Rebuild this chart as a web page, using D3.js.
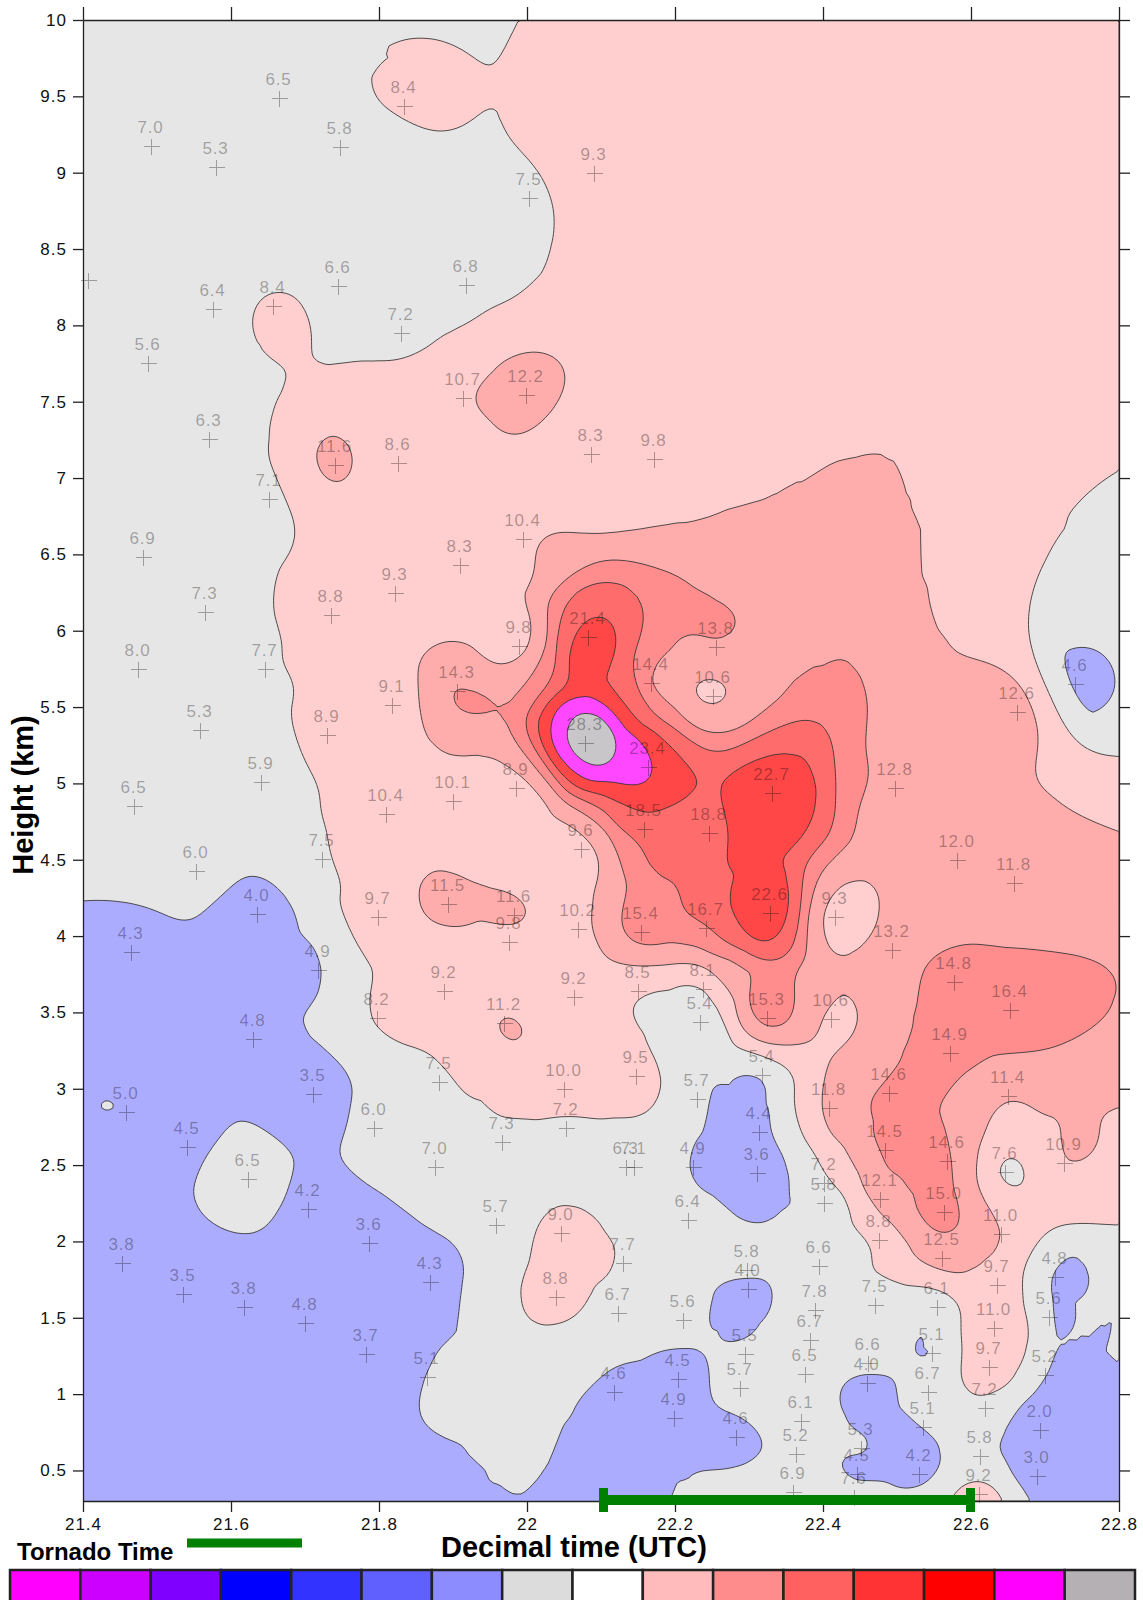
<!DOCTYPE html>
<html>
<head>
<meta charset="utf-8">
<script src="https://cdn.jsdelivr.net/npm/d3@7"></script>
<style>
  body { margin: 0; background: #fff; }
  text { font-family: "Liberation Sans", Arial, sans-serif; }
</style>
</head>
<body>
<svg id="chart" width="1143" height="1600"></svg>
<script>
// ── Observations (decimal time UTC, height km, value) ─────────────────────
const ptTime = [
  21.665, 21.492, 21.580, 21.747, 21.407, 21.576, 21.657, 21.745, 21.488, 21.834,
  22.091, 22.003, 21.918, 21.830, 21.914, 21.999, 21.570, 21.741, 21.651, 21.481,
  21.565, 21.735, 21.474, 21.646, 21.558, 21.730, 21.641, 21.469, 21.826, 22.086,
  22.172, 21.995, 21.909, 21.822, 21.989, 22.082, 22.255, 22.168, 21.905, 21.818,
  22.251, 22.078, 22.164, 21.900, 21.985, 21.809, 22.741, 22.662, 22.497, 22.331,
  21.553, 21.723, 21.635, 21.465, 21.718, 21.630, 21.711, 21.458, 21.541, 21.623,
  21.704, 21.799, 21.797, 21.793, 22.073, 22.158, 22.246, 21.893, 21.982, 21.976,
  22.069, 22.154, 22.242, 21.888, 22.064, 22.150, 22.238, 21.969, 22.234, 21.881,
  22.050, 22.147, 22.230, 22.053, 21.966, 21.876, 22.134, 22.145, 22.224, 22.314,
  22.311, 22.318, 22.324, 22.581, 22.658, 22.328, 22.416, 22.493, 22.577, 22.653,
  22.411, 22.572, 22.489, 22.650, 22.408, 22.484, 22.568, 22.646, 22.726, 22.401,
  22.401, 22.477, 22.564, 22.476, 22.561, 22.641, 22.635, 22.714, 22.705, 22.631,
  22.624, 22.700, 22.619, 22.693, 22.689, 22.612, 22.611, 22.395, 22.389, 22.382,
  22.376, 22.370, 22.364, 22.359, 22.470, 22.461, 22.459, 22.554, 22.547, 22.542,
  22.535, 22.451, 22.446, 22.442, 22.530, 21.453, 21.535, 21.618, 21.700, 21.782,
  21.786, 21.958, 22.046, 21.869, 22.039, 22.130, 22.123, 22.211, 22.297, 22.299,
  22.295, 22.288, 21.865, 22.118, 22.204, 22.199, 22.282, 22.218
];
const ptHeight = [
  9.489, 9.174, 9.037, 9.168, 8.297, 8.107, 8.126, 8.257, 7.753, 9.437,
  8.998, 8.834, 8.264, 7.949, 7.523, 7.543, 7.255, 7.084, 6.862, 6.482,
  6.121, 6.102, 5.748, 5.748, 5.348, 5.315, 5.008, 4.850, 7.098, 7.157,
  7.124, 6.600, 6.429, 6.246, 5.899, 5.958, 5.892, 5.656, 5.604, 5.512,
  5.571, 5.263, 5.106, 4.883, 4.968, 4.798, 5.650, 5.466, 4.968, 4.935,
  4.424, 4.503, 4.143, 3.894, 3.776, 3.324, 2.963, 2.845, 2.616, 2.406,
  2.210, 4.123, 3.461, 2.741, 4.569, 4.700, 4.673, 4.208, 4.136, 3.959,
  4.044, 4.025, 4.051, 3.638, 3.599, 3.638, 3.651, 3.429, 3.435, 3.042,
  2.996, 3.081, 2.931, 2.741, 2.649, 2.485, 2.485, 2.485, 2.485, 2.714,
  2.446, 3.088, 3.461, 4.497, 4.346, 4.149, 4.123, 3.907, 3.697, 3.514,
  3.455, 3.232, 2.970, 2.950, 2.872, 2.597, 2.524, 2.452, 2.511, 2.380,
  2.249, 2.275, 2.190, 2.007, 1.889, 2.046, 1.712, 1.764, 1.502, 1.430,
  1.175, 1.122, 0.906, 0.768, 0.467, 0.592, 0.349, 1.836, 1.548, 1.352,
  1.135, 0.827, 0.611, 0.356, 1.581, 1.201, 1.076, 1.568, 1.267, 1.011,
  0.782, 0.644, 0.474, 0.323, 0.474, 1.856, 1.653, 1.568, 1.463, 1.260,
  1.987, 2.105, 2.053, 1.732, 1.633, 1.856, 1.529, 1.483, 1.810, 1.686,
  1.260, 1.037, 1.109, 1.017, 1.096, 0.841, 0.716, 2.138
];
const ptValue = [
  6.5, 7.0, 5.3, 5.8, null, 6.4, 8.4, 6.6, 5.6, 8.4,
  9.3, 7.5, 6.8, 7.2, 10.7, 12.2, 6.3, 11.6, 7.1, 6.9,
  7.3, 8.8, 8.0, 7.7, 5.3, 8.9, 5.9, 6.5, 8.6, 8.3,
  9.8, 10.4, 8.3, 9.3, 9.8, 21.4, 13.8, 14.4, 14.3, 9.1,
  10.6, 28.3, 23.4, 10.1, 8.9, 10.4, 4.6, 12.6, 12.8, 22.7,
  6.0, 7.5, 4.0, 4.3, 4.9, 4.8, 3.5, 5.0, 4.5, 6.5,
  4.2, 9.7, 8.2, 6.0, 9.6, 18.5, 18.8, 11.5, 11.6, 9.8,
  10.2, 15.4, 16.7, 9.2, 9.2, 8.5, 8.1, 11.2, 5.4, 7.5,
  10.0, 9.5, 5.7, 7.2, 7.3, 7.0, 6.3, 7.1, 4.9, 4.4,
  3.6, 5.4, 15.3, 12.0, 11.8, 22.6, 9.3, 13.2, 14.8, 16.4,
  10.6, 14.9, 14.6, 11.4, 11.8, 14.5, 14.6, 7.6, 10.9, 7.2,
  5.8, 12.1, 15.0, 8.8, 12.5, 11.0, 9.7, 4.8, 5.6, 11.0,
  9.7, 5.2, 7.2, 2.0, 3.0, 5.8, 9.2, 6.6, 7.8, 6.7,
  6.5, 6.1, 5.2, 6.9, 7.5, 6.6, 4.0, 6.1, 5.1, 6.7,
  5.1, 5.3, 4.5, 7.6, 4.2, 3.8, 3.5, 3.8, 4.8, 3.7,
  3.6, 5.7, 9.0, 4.3, 8.8, 7.7, 6.7, 5.6, 5.8, 4.0,
  5.5, 5.7, 5.1, 4.6, 4.5, 4.9, 4.6, 6.4
];

// ── Axes, levels, palette ─────────────────────────────────────────────────
const xTicks = [21.4, 21.6, 21.8, 22.0, 22.2, 22.4, 22.6, 22.8];
const xTickLabels = ["21.4", "21.6", "21.8", "22", "22.2", "22.4", "22.6", "22.8"];
const yTicks = [0.5, 1, 1.5, 2, 2.5, 3, 3.5, 4, 4.5, 5, 5.5, 6, 6.5, 7, 7.5, 8, 8.5, 9, 9.5, 10];
const yTickLabels = ["0.5", "1", "1.5", "2", "2.5", "3", "3.5", "4", "4.5", "5",
                     "5.5", "6", "6.5", "7", "7.5", "8", "8.5", "9", "9.5", "10"];
const levels = [5.05, 8, 11.1, 14.2, 17, 20, 23, 26];
const barColors = ["#ff00ff", "#cc00ff", "#8000ff", "#0000ff", "#3333ff", "#6060ff", "#8c8cff", "#dcdcdc",
                   "#ffffff", "#ffbbbb", "#ff8c8c", "#ff6060", "#ff3333", "#ff0000", "#ff00ff", "#b4b0b4"];
const bandColorIdx = [6, 7, 9, 10, 11, 12, 13, 14, 15];   // colour box used by each band
const tornadoStart = 22.1, tornadoEnd = 22.6;

// ── Layout ────────────────────────────────────────────────────────────────
const L = 83, R = 1119, T = 20, B = 1501;
const x = d3.scaleLinear([21.4, 22.8], [L, R]);
const y = d3.scaleLinear([0.3, 10], [B, T]);
const svg = d3.select("#chart");
const fillOf = (c) => d3.interpolateRgb("#ffffff", c)(0.72);

// ── Gridding: thin-plate spline near the data, inverse distance in gaps ──
const pts = ptValue.map((v, i) => ({ x: x(ptTime[i]), y: y(ptHeight[i]), v }))
  .filter((p) => p.v != null);
const n = pts.length;
const S = 100;                                     // spline works in px / 100
const phi = (r2) => (r2 > 1e-12 ? 0.5 * r2 * Math.log(r2) : 0);
const LAMBDA = 0.005, K = 14, GAP = 48;

function solve(A, b) {
  const m = b.length;
  for (let c = 0; c < m; c++) {
    let piv = c;
    for (let r = c + 1; r < m; r++) if (Math.abs(A[r][c]) > Math.abs(A[piv][c])) piv = r;
    [A[c], A[piv]] = [A[piv], A[c]]; [b[c], b[piv]] = [b[piv], b[c]];
    for (let r = c + 1; r < m; r++) {
      const f = A[r][c] / A[c][c];
      if (!f) continue;
      for (let k = c; k < m; k++) A[r][k] -= f * A[c][k];
      b[r] -= f * b[c];
    }
  }
  const out = new Array(m).fill(0);
  for (let r = m - 1; r >= 0; r--) {
    let s = b[r];
    for (let k = r + 1; k < m; k++) s -= A[r][k] * out[k];
    out[r] = s / A[r][r];
  }
  return out;
}

const A = [], rhs = [];
for (let i = 0; i < n + 3; i++) A.push(new Array(n + 3).fill(0));
for (let i = 0; i < n; i++) {
  for (let j = 0; j < n; j++) {
    const dx = (pts[i].x - pts[j].x) / S, dy = (pts[i].y - pts[j].y) / S;
    A[i][j] = phi(dx * dx + dy * dy);
  }
  A[i][i] += LAMBDA;
  A[i][n] = A[n][i] = 1;
  A[i][n + 1] = A[n + 1][i] = pts[i].x / S;
  A[i][n + 2] = A[n + 2][i] = pts[i].y / S;
  rhs.push(pts[i].v);
}
rhs.push(0, 0, 0);
const coef = solve(A, rhs);

const nx = 259, ny = 371;
const cw = (R - L) / nx, ch = (B - T) / ny;
const grid = new Float64Array(nx * ny);
const bd = new Float64Array(K + 1), bv = new Float64Array(K + 1);
for (let j = 0; j < ny; j++) {
  const py = T + (j + 0.5) * ch;
  for (let i = 0; i < nx; i++) {
    const px = L + (i + 0.5) * cw;
    // spline value
    let tps = coef[n] + coef[n + 1] * px / S + coef[n + 2] * py / S;
    bd.fill(Infinity);
    for (let k = 0; k < n; k++) {
      const p = pts[k];
      const dx = p.x - px, dy = p.y - py, d2 = dx * dx + dy * dy;
      tps += coef[k] * phi(d2 / (S * S));
      if (d2 < bd[K]) {
        let q = K;
        while (q > 0 && bd[q - 1] > d2) { bd[q] = bd[q - 1]; bv[q] = bv[q - 1]; q--; }
        bd[q] = d2; bv[q] = p.v;
      }
    }
    // local Shepard value (Franke-Little weights)
    const rad = Math.sqrt(bd[K]);
    let sw = 0, sv = 0, lo = Infinity, hi = -Infinity;
    for (let q = 0; q < K; q++) {
      const d = Math.sqrt(bd[q]) + 1e-3;
      const w = Math.pow((rad - d) / (rad * d), 2);
      sw += w; sv += w * bv[q];
      if (q < 6) { lo = Math.min(lo, bv[q]); hi = Math.max(hi, bv[q]); }
    }
    const idw = sv / sw;
    tps = Math.max(lo, Math.min(hi, tps));          // no spline overshoot
    const c = Math.exp(-bd[0] / (GAP * GAP));
    grid[j * nx + i] = idw + (tps - idw) * c;
  }
}

// ── Filled contours ───────────────────────────────────────────────────────
svg.append("clipPath").attr("id", "plotClip")
  .append("rect").attr("x", L).attr("y", T).attr("width", R - L).attr("height", B - T);
const plot = svg.append("g").attr("clip-path", "url(#plotClip)");
plot.append("rect").attr("x", L).attr("y", T).attr("width", R - L).attr("height", B - T)
  .attr("fill", fillOf(barColors[bandColorIdx[0]]));

const contours = d3.contours().size([nx, ny]).thresholds(levels)(grid);
const gridPath = d3.geoPath(d3.geoTransform({
  point(gx, gy) { this.stream.point(L + gx * cw, T + gy * ch); }
}));
plot.selectAll("path.band").data(contours).join("path")
  .attr("class", "band")
  .attr("d", gridPath)
  .attr("fill", (d, i) => fillOf(barColors[bandColorIdx[i + 1]]))
  .attr("stroke", "#333").attr("stroke-width", 1).attr("stroke-opacity", 0.85);

// ── Observation markers and labels ────────────────────────────────────────
const obs = svg.append("g").attr("class", "obs");
ptValue.forEach((v, i) => {
  const px = Math.round(x(ptTime[i])) + 0.5, py = Math.round(y(ptHeight[i])) + 0.5;
  obs.append("path")
    .attr("d", `M${px - 8},${py}H${px + 8}M${px},${py - 8}V${py + 8}`)
    .attr("stroke", "#000").attr("stroke-opacity", 0.32).attr("stroke-width", 1)
    .attr("shape-rendering", "crispEdges");
  if (v == null) return;
  obs.append("text").attr("x", px - 1).attr("y", py - 14)
    .attr("text-anchor", "middle").attr("font-size", "17px").attr("letter-spacing", "0.8px")
    .attr("fill", "#000").attr("fill-opacity", 0.32)
    .text(v.toFixed(1));
});

// ── Axes ──────────────────────────────────────────────────────────────────
const styleAxis = (g) => {
  g.selectAll("path, line").attr("stroke", "#222").attr("stroke-width", 1.3);
  g.selectAll("text").attr("fill", "#111").attr("font-size", "17px")
    .attr("letter-spacing", "1px").attr("font-family", "Liberation Sans, Arial, sans-serif");
};
svg.append("g").attr("transform", `translate(${L},0)`)
  .call(d3.axisLeft(y).tickValues(yTicks).tickSize(10).tickSizeOuter(0).tickPadding(6)
    .tickFormat((d, i) => yTickLabels[i]))
  .call(styleAxis);
svg.append("g").attr("transform", `translate(${R},0)`)
  .call(d3.axisRight(y).tickValues(yTicks).tickSize(11).tickSizeOuter(0).tickFormat(""))
  .call(styleAxis);
svg.append("g").attr("transform", `translate(0,${T})`)
  .call(d3.axisTop(x).tickValues(xTicks).tickSize(13).tickSizeOuter(0).tickFormat(""))
  .call(styleAxis);
svg.append("g").attr("transform", `translate(0,${B})`)
  .call(d3.axisBottom(x).tickValues(xTicks).tickSize(11).tickSizeOuter(0).tickPadding(6)
    .tickFormat((d, i) => xTickLabels[i]))
  .call(styleAxis);

// ── Tornado time bar ──────────────────────────────────────────────────────
const green = "#008000";
svg.append("line").attr("x1", x(tornadoStart)).attr("x2", x(tornadoEnd))
  .attr("y1", 1500).attr("y2", 1500).attr("stroke", green).attr("stroke-width", 10);
svg.append("rect").attr("x", x(tornadoStart) - 2).attr("y", 1488).attr("width", 9).attr("height", 24)
  .attr("fill", green);
svg.append("rect").attr("x", x(tornadoEnd) - 5).attr("y", 1488).attr("width", 9).attr("height", 24)
  .attr("fill", green);

// ── Titles ────────────────────────────────────────────────────────────────
svg.append("text").attr("transform", "translate(33,795) rotate(-90)")
  .attr("text-anchor", "middle").attr("font-size", "29px").attr("font-weight", "bold")
  .attr("fill", "#000").text("Height (km)");
svg.append("text").attr("x", 574).attr("y", 1557)
  .attr("text-anchor", "middle").attr("font-size", "29px").attr("font-weight", "bold")
  .attr("fill", "#000").text("Decimal time (UTC)");
svg.append("text").attr("x", 17).attr("y", 1560)
  .attr("font-size", "24px").attr("font-weight", "bold").attr("fill", "#000").text("Tornado Time");
svg.append("line").attr("x1", 187).attr("x2", 302).attr("y1", 1543).attr("y2", 1543)
  .attr("stroke", green).attr("stroke-width", 9);

// ── Colour bar ────────────────────────────────────────────────────────────
const bw = (1135 - 10) / barColors.length;
svg.append("g").selectAll("rect").data(barColors).join("rect")
  .attr("x", (d, i) => 10 + i * bw).attr("y", 1570)
  .attr("width", bw).attr("height", 40)
  .attr("fill", (d) => d).attr("stroke", "#222").attr("stroke-width", 2.5);
</script>
</body>
</html>
